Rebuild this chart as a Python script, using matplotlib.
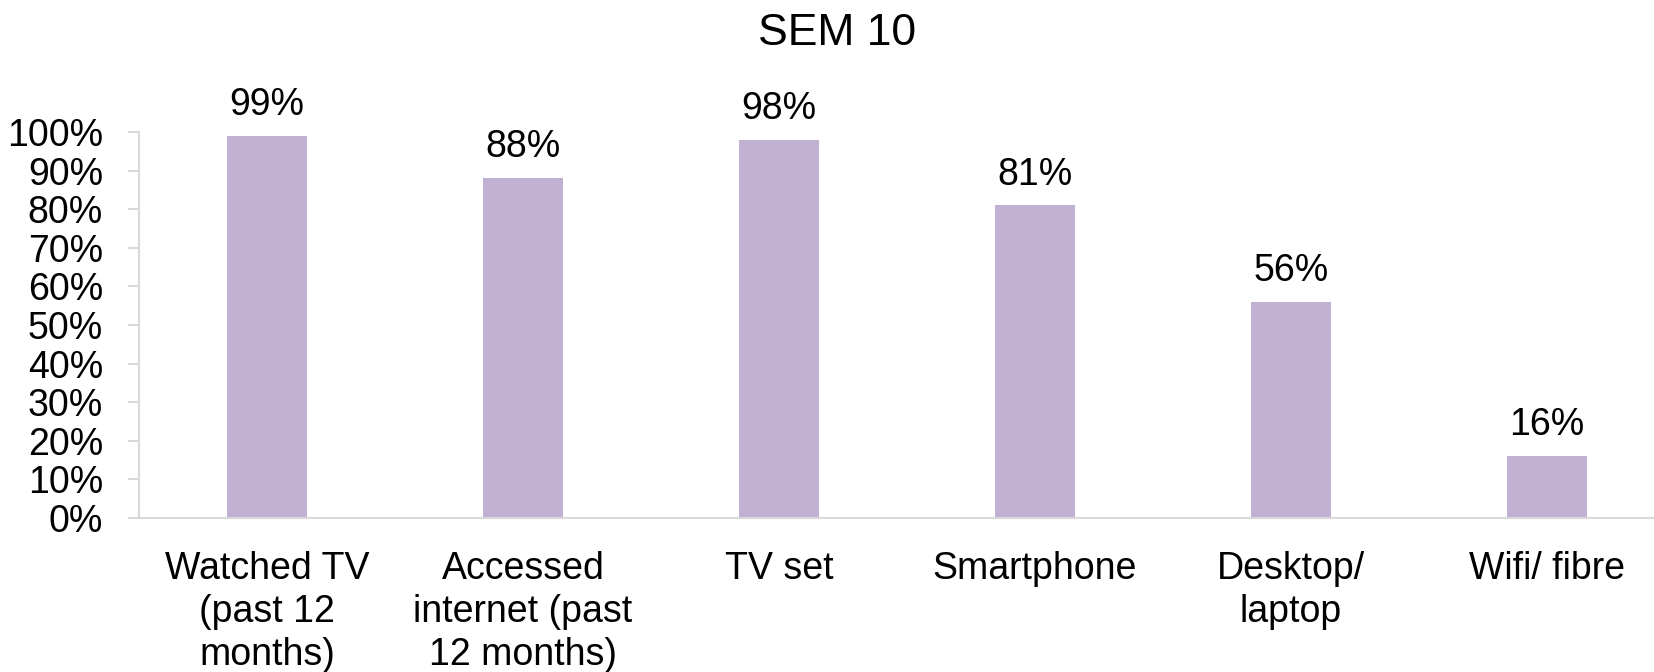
import matplotlib.pyplot as plt
from matplotlib.ticker import PercentFormatter

# Share of respondents, SEM 10
categories = ['Watched TV\n(past 12\nmonths)', 'Accessed\ninternet (past\n12 months)',
              'TV set', 'Smartphone', 'Desktop/\nlaptop', 'Wifi/ fibre']
shares = [0.99, 0.88, 0.98, 0.81, 0.56, 0.16]
yticks = [i / 10 for i in range(11)]

plt.rcParams['font.family'] = ['Liberation Sans', 'DejaVu Sans']

fig = plt.figure(figsize=(16.54, 6.72), dpi=100)
ax = fig.add_axes([139 / 1654, 154 / 672, 1 - 139 / 1654, 386 / 672])

x = list(range(len(categories)))
bars = ax.bar(x, shares, width=0.31, color='#c0b1d3')

for rect, v in zip(bars, shares):
    ax.annotate(f'{v:.0%}', (rect.get_x() + rect.get_width() / 2, v),
                xytext=(0, 15), textcoords='offset points',
                ha='center', va='baseline', fontsize=27)

ax.set_xlim(-0.5, (1654 - 139) / 256 - 0.5)
ax.set_ylim(0, 1)
ax.set_yticks(yticks)
ax.yaxis.set_major_formatter(PercentFormatter(1.0, decimals=0))
ax.set_xticks(x)
ax.set_xticklabels(categories, fontsize=27, linespacing=1.25)

for side in ['top', 'right']:
    ax.spines[side].set_visible(False)
for side in ['left', 'bottom']:
    ax.spines[side].set_color('#d9d9d9')
    ax.spines[side].set_linewidth(1.5)

ax.tick_params(axis='y', labelsize=27, length=8, width=1.5, color='#d9d9d9', pad=18)
ax.tick_params(axis='x', length=0, pad=24)

fig.text(837 / 1654, 1 - 45 / 672, 'SEM 10', ha='center', va='baseline', fontsize=32)

fig.savefig('out.png', dpi=100)
